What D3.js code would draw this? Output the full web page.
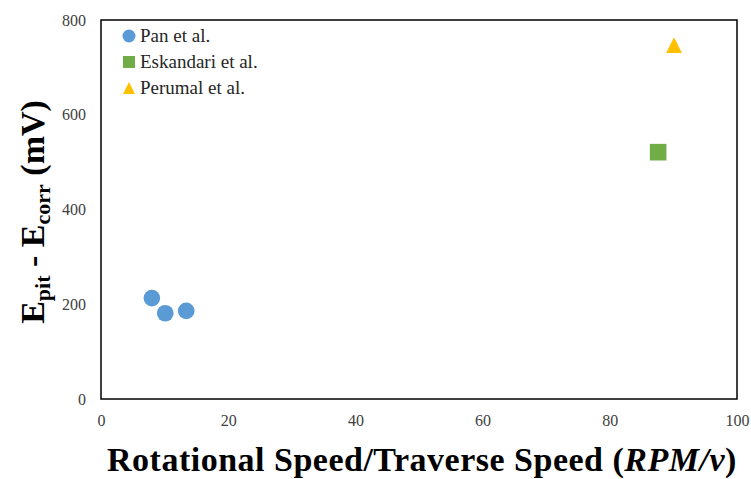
<!DOCTYPE html>
<html>
<head>
<meta charset="utf-8">
<script src="https://cdn.jsdelivr.net/npm/d3@7"></script>
<style>
  html, body { margin: 0; padding: 0; background: #fff; }
  svg { display: block; }
</style>
</head>
<body>
<svg id="chart" width="751" height="479"></svg>
<script>
// Series: rotational speed / traverse speed (RPM/v) vs. Epit - Ecorr (mV)
const panX = [8.0, 10.1, 13.4];
const panY = [213, 181, 186];
const eskandariX = [87.6];
const eskandariY = [521];
const perumalX = [90.1];
const perumalY = [747];

const xTicks = [0, 20, 40, 60, 80, 100];
const yTicks = [0, 200, 400, 600, 800];
const seriesNames = ["Pan et al.", "Eskandari et al.", "Perumal et al."];

const colors = ["#5B9BD5", "#70AD47", "#FFC000"];

// Isosceles triangle whose height equals its base (size = side²)
const symbolTri = {
  draw(ctx, size) {
    const w = Math.sqrt(size);
    ctx.moveTo(0, -w / 2);
    ctx.lineTo(w / 2, w / 2);
    ctx.lineTo(-w / 2, w / 2);
    ctx.closePath();
  }
};
const shapes = [d3.symbolCircle, d3.symbolSquare, symbolTri];

const svg = d3.select("#chart");
const margin = { left: 101, right: 14, top: 20, bottom: 80 };
const W = 751, H = 479;

const x = d3.scaleLinear().domain([0, 100]).range([margin.left, W - margin.right]);
const y = d3.scaleLinear().domain([0, 800]).range([H - margin.bottom, margin.top]);

const serif = "Liberation Serif";

// Tick labels (the frame is drawn separately)
const xAxis = svg.append("g")
  .attr("transform", `translate(0,${y(0)})`)
  .call(d3.axisBottom(x).tickValues(xTicks).tickSize(0).tickPadding(16));
const yAxis = svg.append("g")
  .attr("transform", `translate(${x(0)},0)`)
  .call(d3.axisLeft(y).tickValues(yTicks).tickSize(0).tickPadding(15));
[xAxis, yAxis].forEach(g => {
  g.attr("font-family", serif).attr("font-size", 16);
  g.select(".domain").remove();
  g.selectAll("text").attr("fill", "#404040");
});

// Plot frame
svg.append("rect")
  .attr("x", x(0)).attr("y", y(800))
  .attr("width", x(100) - x(0)).attr("height", y(0) - y(800))
  .attr("fill", "none").attr("stroke", "#000").attr("stroke-width", 1.5);

// Markers
const series = [
  { xs: panX, ys: panY },
  { xs: eskandariX, ys: eskandariY },
  { xs: perumalX, ys: perumalY }
];
const sizes = [218, 276, 250];
series.forEach((s, i) => {
  svg.append("g").selectAll("path")
    .data(s.xs.map((v, j) => [v, s.ys[j]]))
    .join("path")
    .attr("transform", d => `translate(${x(d[0])},${y(d[1])})`)
    .attr("d", d3.symbol().type(shapes[i]).size(sizes[i]))
    .attr("fill", colors[i]);
});

// Legend
const legendSizes = [133, 144, 144];
const legend = svg.append("g");
seriesNames.forEach((name, i) => {
  const ly = 36 + i * 26;
  legend.append("path")
    .attr("transform", `translate(129,${ly})`)
    .attr("d", d3.symbol().type(shapes[i]).size(legendSizes[i]))
    .attr("fill", colors[i]);
  legend.append("text")
    .attr("x", 140).attr("y", ly + 6)
    .attr("font-family", serif)
    .attr("font-size", 19)
    .attr("fill", "#262626")
    .text(name);
});

// X axis title
const xt = svg.append("text")
  .attr("x", 107).attr("y", 471)
  .attr("font-family", serif)
  .attr("font-size", 34)
  .attr("font-weight", "bold")
  .attr("letter-spacing", 0.5)
  .attr("fill", "#000");
xt.append("tspan").text("Rotational Speed/Traverse Speed (");
xt.append("tspan").attr("font-style", "italic").text("RPM/v");
xt.append("tspan").text(")");

// Y axis title with subscripts
const yt = svg.append("text")
  .attr("transform", `translate(44,212) rotate(-90)`)
  .attr("text-anchor", "middle")
  .attr("font-family", serif)
  .attr("font-size", 34)
  .attr("font-weight", "bold")
  .attr("fill", "#000");
yt.append("tspan").text("E");
yt.append("tspan").attr("font-size", 22).attr("dy", 6).text("pit");
yt.append("tspan").attr("dy", -6).text(" - E");
yt.append("tspan").attr("font-size", 22).attr("dy", 6).text("corr");
yt.append("tspan").attr("dy", -6).text(" (mV)");
</script>
</body>
</html>
